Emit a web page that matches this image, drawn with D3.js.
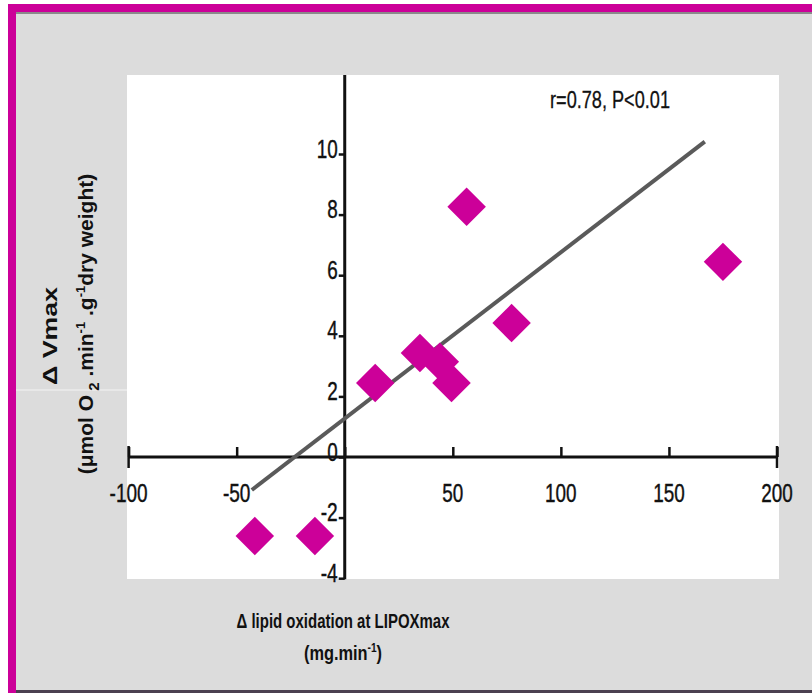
<!DOCTYPE html>
<html>
<head>
<meta charset="utf-8">
<script src="https://cdn.jsdelivr.net/npm/d3@7"></script>
<style>
  html, body { margin: 0; padding: 0; background: #fff; }
  svg { display: block; }
  text { font-family: "Liberation Sans", Arial, sans-serif; fill: #111; }
</style>
</head>
<body>
<div id="chart"></div>
<script>
// values
var xTicks = [-100, -50, 0, 50, 100, 150, 200];
var yTicks = [-4, -2, 0, 2, 4, 6, 8, 10];
var lipidOx = [-41.6, -13.8, 14.1, 34.8, 44.0, 49.4, 56.4, 77.2, 175.0];
var deltaVmax = [-2.61, -2.61, 2.44, 3.43, 3.14, 2.44, 8.26, 4.42, 6.44];
var fitX = [-43, 166.6];
var fitY = [-1.09, 10.41];
var statLabel = "r=0.78, P<0.01";

var w = 812, h = 693;
var magenta = "#cc0099";

// condensed look: squeeze the labels to the width of the original type
function narrowWidth(s) {
    var n = 0;
    for (var i = 0; i < s.length; i++) { n += (s[i] == "-") ? 6.5 : 10.5; }
    return n;
}

var svg = d3.select("#chart").append("svg")
    .attr("width", w)
    .attr("height", h);

// frame: magenta border top + left, grey panel
svg.append("rect").attr("x", 8).attr("y", 4).attr("width", w - 8).attr("height", h - 4).attr("fill", magenta);
svg.append("rect").attr("x", 16).attr("y", 12).attr("width", w - 16).attr("height", h - 12).attr("fill", "#8a8a8a");
svg.append("rect").attr("x", 16).attr("y", 14).attr("width", w - 16).attr("height", 676).attr("fill", "#dcdcdc");
svg.append("rect").attr("x", 16).attr("y", 690).attr("width", w - 16).attr("height", 3).attr("fill", "#4b4050");
// faint scan line
svg.append("line").attr("x1", 16).attr("x2", 127).attr("y1", 390).attr("y2", 390)
    .attr("stroke", "#f4f4f4").attr("stroke-width", 1);

// white plotting area
svg.append("rect").attr("x", 127).attr("y", 75).attr("width", 652).attr("height", 504).attr("fill", "#fff");

var x = d3.scaleLinear().domain([-100, 200]).range([128.6, 777]);
var y = d3.scaleLinear().domain([0, 10]).range([457, 154]);

// x axis through y=0
var xAxis = d3.axisTop(x)
    .tickValues(xTicks)
    .tickSize(10)
    .tickFormat("");
var gx = svg.append("g")
    .attr("transform", "translate(0," + y(0) + ")")
    .call(xAxis)
    .attr("font-family", null).attr("font-size", null);
gx.select(".domain").remove();
gx.selectAll(".tick line").attr("stroke", "#111").attr("stroke-width", 2.5);
gx.append("line").attr("x1", x(-100)).attr("x2", x(200)).attr("y1", 0).attr("y2", 0)
    .attr("stroke", "#111").attr("stroke-width", 3);
// end caps cross the axis
gx.selectAll(".cap").data([-100, 200]).enter().append("line")
    .attr("class", "cap")
    .attr("x1", function(d) { return x(d); })
    .attr("x2", function(d) { return x(d); })
    .attr("y1", -11).attr("y2", 11)
    .attr("stroke", "#111").attr("stroke-width", 2.5);
gx.selectAll(".xlab").data(xTicks.filter(function(d) { return d != 0; })).enter().append("text")
    .attr("class", "xlab")
    .attr("x", function(d) { return x(d); })
    .attr("y", 45)
    .attr("text-anchor", "middle")
    .attr("textLength", function(d) { return narrowWidth(String(d)); })
    .attr("lengthAdjust", "spacingAndGlyphs")
    .style("font-size", "25px")
    .style("stroke", "#111").style("stroke-width", 0.4)
    .text(function(d) { return d; });

// y axis through x=0
var yAxis = d3.axisLeft(y)
    .tickValues(yTicks)
    .tickSize(6)
    .tickPadding(4)
    .tickFormat(function(d) { return String(d); });
var gy = svg.append("g")
    .attr("transform", "translate(" + x(0) + ",0)")
    .call(yAxis)
    .attr("font-family", null).attr("font-size", null);
gy.select(".domain").remove();
gy.selectAll(".tick line").attr("stroke", "#111").attr("stroke-width", 2.5);
gy.selectAll(".tick text")
    .attr("dy", null)
    .attr("y", 3)
    .attr("x", -7)
    .attr("textLength", function(d) { return narrowWidth(String(d)); })
    .attr("lengthAdjust", "spacingAndGlyphs")
    .style("font-size", "25px")
    .style("fill", "#111")
    .style("stroke", "#111").style("stroke-width", 0.4);
gy.append("line").attr("x1", 0).attr("x2", 0).attr("y1", 75).attr("y2", y(-4) + 1)
    .attr("stroke", "#111").attr("stroke-width", 3);

// regression line
svg.append("line")
    .attr("x1", x(fitX[0])).attr("y1", y(fitY[0]))
    .attr("x2", x(fitX[1])).attr("y2", y(fitY[1]))
    .attr("stroke", "#5a5a5a")
    .attr("stroke-width", 4);

// diamonds
var pts = lipidOx.map(function(d, i) { return { x: d, y: deltaVmax[i] }; });
svg.selectAll(".pt").data(pts).enter().append("path")
    .attr("class", "pt")
    .attr("d", d3.symbol().type(d3.symbolSquare).size(740))
    .attr("transform", function(d) { return "translate(" + x(d.x) + "," + y(d.y) + ") rotate(45)"; })
    .attr("fill", magenta);

// stats annotation
svg.append("text")
    .attr("x", 550).attr("y", 108)
    .attr("textLength", 120)
    .attr("lengthAdjust", "spacingAndGlyphs")
    .style("font-size", "24px")
    .style("stroke", "#111").style("stroke-width", 0.3)
    .text(statLabel);

// x title
svg.append("text")
    .attr("x", 343).attr("y", 628)
    .attr("text-anchor", "middle")
    .attr("textLength", 213)
    .attr("lengthAdjust", "spacingAndGlyphs")
    .style("font-size", "21px").style("font-weight", "bold")
    .text("\u0394 lipid oxidation at LIPOXmax");
var xt2 = svg.append("g")
    .attr("transform", "translate(343,660) scale(0.78,1)")
    .append("text")
    .attr("text-anchor", "middle")
    .style("font-size", "21px").style("font-weight", "bold");
xt2.append("tspan").text("(mg.min");
xt2.append("tspan").attr("dy", -8).style("font-size", "13px").text("-1");
xt2.append("tspan").attr("dy", 8).text(")");

// y title (rotated)
svg.append("text")
    .attr("transform", "translate(57,336) rotate(-90)")
    .attr("text-anchor", "middle")
    .attr("textLength", 98)
    .attr("lengthAdjust", "spacingAndGlyphs")
    .style("font-size", "20px").style("font-weight", "bold")
    .text("\u0394 Vmax");
var yt2 = svg.append("text")
    .attr("transform", "translate(93,324) rotate(-90)")
    .attr("text-anchor", "middle")
    .style("font-size", "21px").style("font-weight", "bold");
yt2.append("tspan").text("(\u03bcmol O");
yt2.append("tspan").attr("dy", 6).style("font-size", "15px").text(" 2");
yt2.append("tspan").attr("dy", -6).text(" .min");
yt2.append("tspan").attr("dy", -8).style("font-size", "13px").text("-1");
yt2.append("tspan").attr("dy", 8).text(" .g");
yt2.append("tspan").attr("dy", -8).style("font-size", "13px").text("-1");
yt2.append("tspan").attr("dy", 8).text("dry weight)");
</script>
</body>
</html>
